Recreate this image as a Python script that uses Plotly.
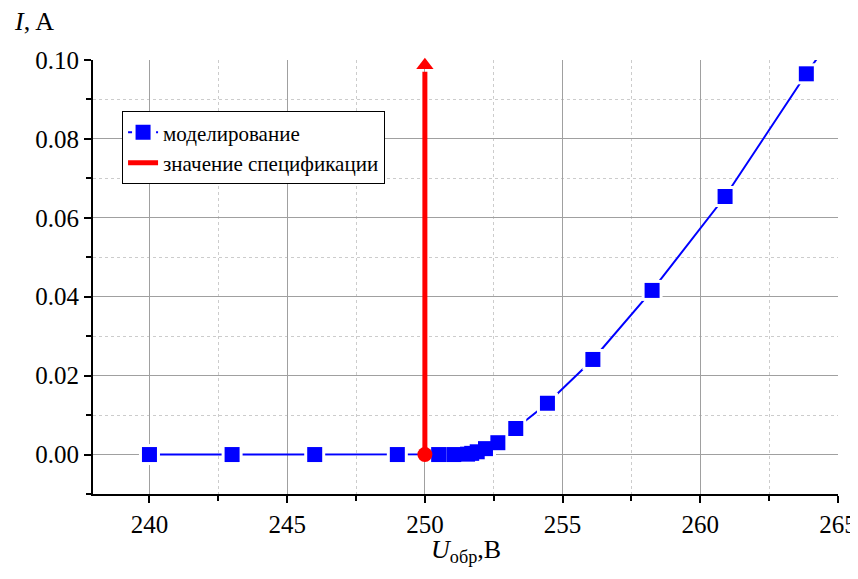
import plotly.graph_objects as go

# data
u_model = [240, 243, 246, 249, 250.5, 251.05, 251.55, 251.7, 251.9, 252.2,
           252.65, 253.3, 254.45, 256.1, 258.25, 260.9, 263.85, 266.9]
i_model = [0, 0, 0, 0, 0, 0, 0.0001, 0.0003, 0.0007, 0.0015,
           0.003, 0.0066, 0.013, 0.0241, 0.0416, 0.0654, 0.0965, 0.127]
u_spec = [250, 250]
i_spec = [0, 0.097]
spec_arrow_u = [250]
spec_arrow_i = [0.0987]
spec_point_u = [250]
spec_point_i = [0]

x_ticks = [240, 245, 250, 255, 260, 265]
y_ticks = [0.00, 0.02, 0.04, 0.06, 0.08, 0.10]

BLUE = "#0000ff"
RED = "#ff0000"
FONT = "Liberation Serif, Times New Roman, serif"

fig = go.Figure()
fig.add_trace(go.Scatter(x=u_model, y=i_model, mode="lines",
                         line=dict(color=BLUE, width=2), showlegend=False,
                         hoverinfo="skip"))
fig.add_trace(go.Scatter(x=u_model, y=i_model, mode="markers",
                         marker=dict(symbol="square", size=21, color="white"),
                         showlegend=False, hoverinfo="skip"))
fig.add_trace(go.Scatter(x=u_model, y=i_model, mode="markers",
                         name="моделирование",
                         marker=dict(symbol="square", size=15, color=BLUE),
                         showlegend=False))
fig.add_trace(go.Scatter(x=[None], y=[None], mode="lines+markers",
                         name="моделирование",
                         line=dict(color=BLUE, width=2, dash="4px,10px"),
                         marker=dict(symbol="square", size=15, color=BLUE)))
fig.add_trace(go.Scatter(x=u_spec, y=i_spec, mode="lines",
                         name="значение спецификации",
                         line=dict(color=RED, width=5)))
fig.add_trace(go.Scatter(x=spec_arrow_u, y=spec_arrow_i, mode="markers",
                         marker=dict(symbol="triangle-up", size=15, color=RED),
                         showlegend=False, cliponaxis=False, hoverinfo="skip"))
fig.add_trace(go.Scatter(x=spec_point_u, y=spec_point_i, mode="markers",
                         marker=dict(symbol="circle", size=15, color=RED),
                         showlegend=False, cliponaxis=False))

axis_common = dict(
    showline=True, linecolor="black", linewidth=2,
    ticks="outside", ticklen=7, tickwidth=2, tickcolor="black",
    showgrid=True, gridcolor="#a0a0a0", gridwidth=1,
    zeroline=False, mirror=False, automargin=False,
    tickfont=dict(family=FONT, size=25, color="black"),
)

fig.update_xaxes(range=[237.95, 265], tickvals=x_ticks,
                 minor=dict(dtick=2.5, tick0=240, ticks="outside", ticklen=5,
                            tickwidth=2, tickcolor="black", showgrid=True,
                            gridcolor="#cccccc", griddash="dot", gridwidth=1),
                 **axis_common)
fig.update_yaxes(range=[-0.01, 0.10], tickvals=y_ticks, tickformat=".2f",
                 minor=dict(dtick=0.01, tick0=0, ticks="outside", ticklen=5,
                            tickwidth=2, tickcolor="black", showgrid=True,
                            gridcolor="#cccccc", griddash="dot", gridwidth=1),
                 **axis_common)

fig.add_annotation(text="<i>I</i>, A", xref="paper", yref="paper",
                   x=-0.109, y=1.088, xanchor="left", yanchor="middle",
                   showarrow=False,
                   font=dict(family=FONT, size=26, color="black"))
fig.add_annotation(text="<i>U</i><sub>обр</sub>,В", xref="paper", yref="paper",
                   x=0.5, y=-0.132, xanchor="center", yanchor="middle",
                   showarrow=False,
                   font=dict(family=FONT, size=26, color="black"))

fig.update_layout(
    width=850, height=571,
    margin=dict(l=85, r=20, t=52, b=85),
    paper_bgcolor="white", plot_bgcolor="white",
    font=dict(family=FONT, color="black"),
    legend=dict(x=0.039, y=0.882, xanchor="left", yanchor="top",
                bgcolor="white", bordercolor="black", borderwidth=1,
                font=dict(family=FONT, size=21, color="black"),
                tracegroupgap=0, itemwidth=30),
    showlegend=True,
)

fig.write_html("out.html")
